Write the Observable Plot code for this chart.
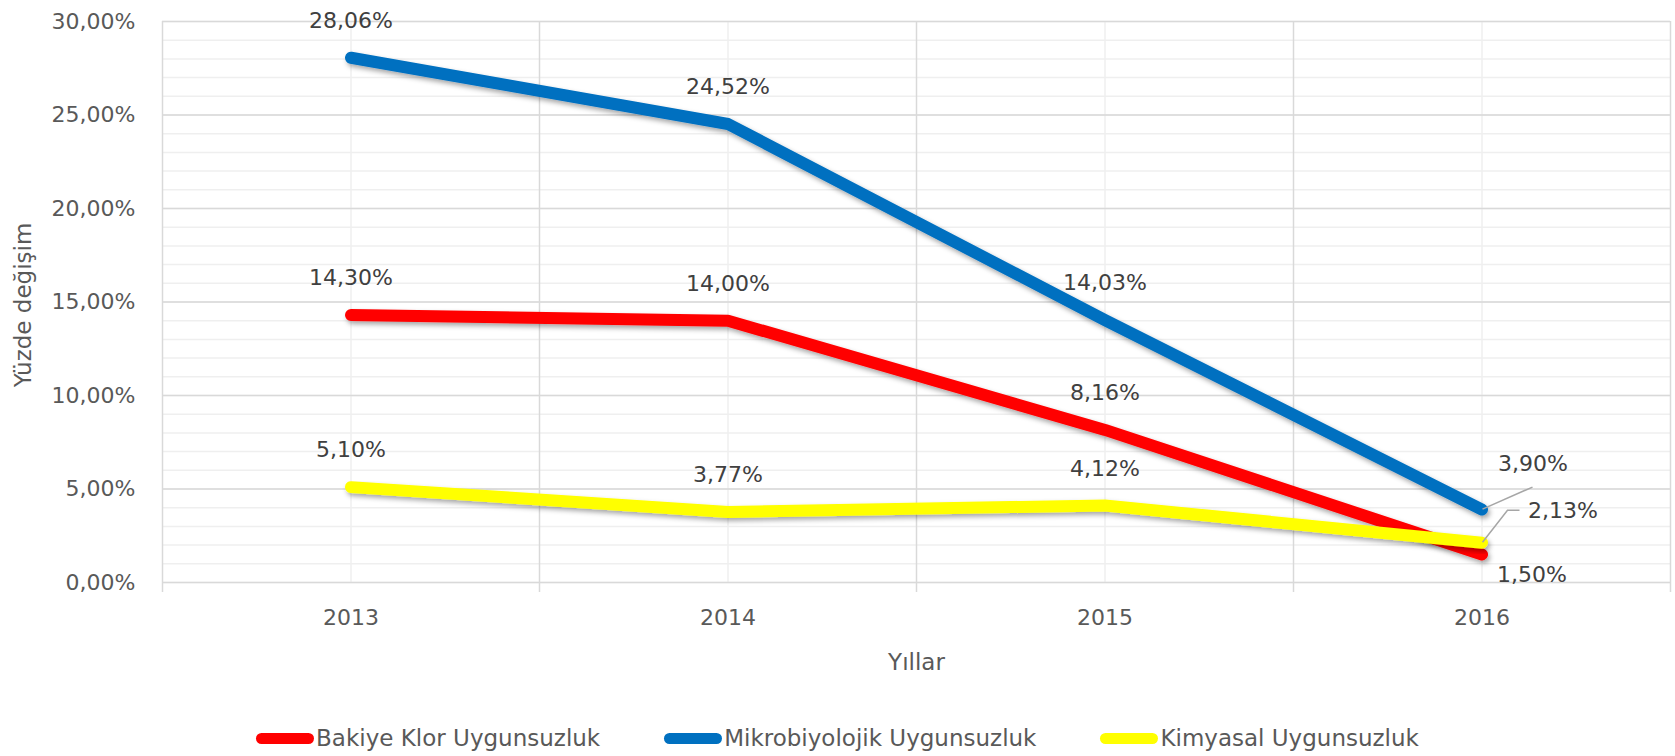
<!DOCTYPE html>
<html><head><meta charset="utf-8">
<script src="https://cdn.jsdelivr.net/npm/d3@7"></script>
<script src="https://cdn.jsdelivr.net/npm/@observablehq/plot@0.6"></script>
<style>
html,body{margin:0;padding:0;background:#fff;}
body{font-family:"DejaVu Sans",sans-serif;width:1675px;height:756px;overflow:hidden;}
#legend{display:flex;justify-content:center;align-items:center;height:36px;gap:64px;color:#595959;font-size:23px;}
#legend .item{display:flex;align-items:center;gap:2px;}
#legend .sw{width:58px;height:11px;border-radius:5.5px;}
</style></head><body>
<div id="chart"></div>
<div id="legend"></div>
<script>
const years = [2013, 2014, 2015, 2016];
const seriesNames = ["Bakiye Klor Uygunsuzluk", "Mikrobiyolojik Uygunsuzluk", "Kimyasal Uygunsuzluk"];
const seriesColors = ["#ff0000", "#0070c0", "#ffff00"];
const bakiyeKlor = [14.30, 14.00, 8.16, 1.50];
const mikrobiyolojik = [28.06, 24.52, 14.03, 3.90];
const kimyasal = [5.10, 3.77, 4.12, 2.13];
const yTicks = [0, 5, 10, 15, 20, 25, 30];
const xTitle = "Yıllar";
const yTitle = "Yüzde değişim";

const seriesValues = [bakiyeKlor, mikrobiyolojik, kimyasal];
const rows = [];
seriesNames.forEach((s, i) => years.forEach((y, j) => rows.push({series: s, year: y, value: seriesValues[i][j]})));
const fmt = v => v.toFixed(2).replace(".", ",") + "%";
const lastYear = years[years.length - 1];
const majorX = years.map(y => y - 0.5).concat([lastYear + 0.5]);
const minorY = d3.range(yTicks[0], yTicks[yTicks.length - 1] + 1, 1);
const color = {domain: seriesNames, range: seriesColors};

// offsets of end labels (pixels) relative to their point
const endOffsets = {
  "Bakiye Klor Uygunsuzluk": [50, 21],
  "Mikrobiyolojik Uygunsuzluk": [51, -46],
  "Kimyasal Uygunsuzluk": [81, -32]
};

const marks = [
  Plot.ruleY(minorY, {stroke: "#efefef", strokeWidth: 1.5}),
  Plot.ruleX(years, {stroke: "#efefef", strokeWidth: 1.5}),
  Plot.ruleY(yTicks, {stroke: "#d9d9d9", strokeWidth: 1.5}),
  Plot.ruleX(majorX, {stroke: "#d9d9d9", strokeWidth: 1.5, insetBottom: -10}),
  Plot.axisY({ticks: yTicks, tickFormat: fmt, tickSize: 0, tickPadding: 27, fill: "#595959", label: null, fontSize: 22}),
  Plot.axisX({ticks: years, tickFormat: d => String(d), tickSize: 0, tickPadding: 27, fill: "#595959", label: null, fontSize: 22}),
  Plot.text([xTitle], {frameAnchor: "bottom", text: d => d, dy: 80, fill: "#595959", fontSize: 23, lineAnchor: "middle", textAnchor: "middle"}),
  Plot.text([yTitle], {frameAnchor: "left", text: d => d, dx: -139, dy: 3, rotate: -90, fill: "#595959", fontSize: 23, lineAnchor: "middle", textAnchor: "middle"})
];
seriesNames.forEach(s => {
  marks.push(Plot.line(rows.filter(r => r.series === s), {x: "year", y: "value", stroke: "series", strokeWidth: 12, strokeLinecap: "round", strokeLinejoin: "round"}));
});
marks.push(Plot.text(rows.filter(r => r.year !== lastYear), {x: "year", y: "value", text: d => fmt(d.value), dy: -37, fill: "#404040", fontSize: 22, lineAnchor: "middle"}));
seriesNames.forEach(s => {
  const [dx, dy] = endOffsets[s];
  marks.push(Plot.text(rows.filter(r => r.year === lastYear && r.series === s), {x: "year", y: "value", text: d => fmt(d.value), dx, dy, fill: "#404040", fontSize: 22, lineAnchor: "middle"}));
});

const plot = Plot.plot({
  width: 1675, height: 720,
  marginLeft: 162, marginRight: 5, marginTop: 21, marginBottom: 138,
  x: {domain: [years[0] - 0.5, lastYear + 0.5]},
  y: {domain: [yTicks[0], yTicks[yTicks.length - 1]]},
  color,
  style: {fontFamily: "DejaVu Sans", fontSize: "22px", background: "#fff", overflow: "visible"},
  marks
});

// drop shadow for lines
const svg = d3.select(plot);
const defs = svg.insert("defs", ":first-child");
defs.append("filter").attr("id", "shadow").attr("x", "-10%").attr("y", "-10%").attr("width", "120%").attr("height", "130%")
  .append("feDropShadow").attr("dx", 2).attr("dy", 3).attr("stdDeviation", 2.5).attr("flood-color", "#000").attr("flood-opacity", 0.35);
svg.selectAll("g[aria-label='line']").attr("filter", "url(#shadow)");

// leader lines for end labels
const sx = plot.scale("x"), sy = plot.scale("y");
const px = sx.apply(lastYear);
const leader = svg.append("g").attr("fill", "none").attr("stroke", "#a6a6a6").attr("stroke-width", 1.5);
const pb = sy.apply(mikrobiyolojik[3]);
leader.append("path").attr("d", `M${px + 1},${pb} L${px + 51},${pb - 22}`);
const pk = sy.apply(kimyasal[3]);
leader.append("path").attr("d", `M${px + 1},${pk} L${px + 26},${pk - 32} L${px + 38},${pk - 32}`);

document.getElementById("chart").appendChild(plot);

const legend = document.getElementById("legend");
seriesNames.forEach((s, i) => {
  const it = document.createElement("div");
  it.className = "item";
  it.innerHTML = `<span class="sw" style="background:${seriesColors[i]}"></span><span>${s}</span>`;
  legend.appendChild(it);
});
</script>
</body></html>
